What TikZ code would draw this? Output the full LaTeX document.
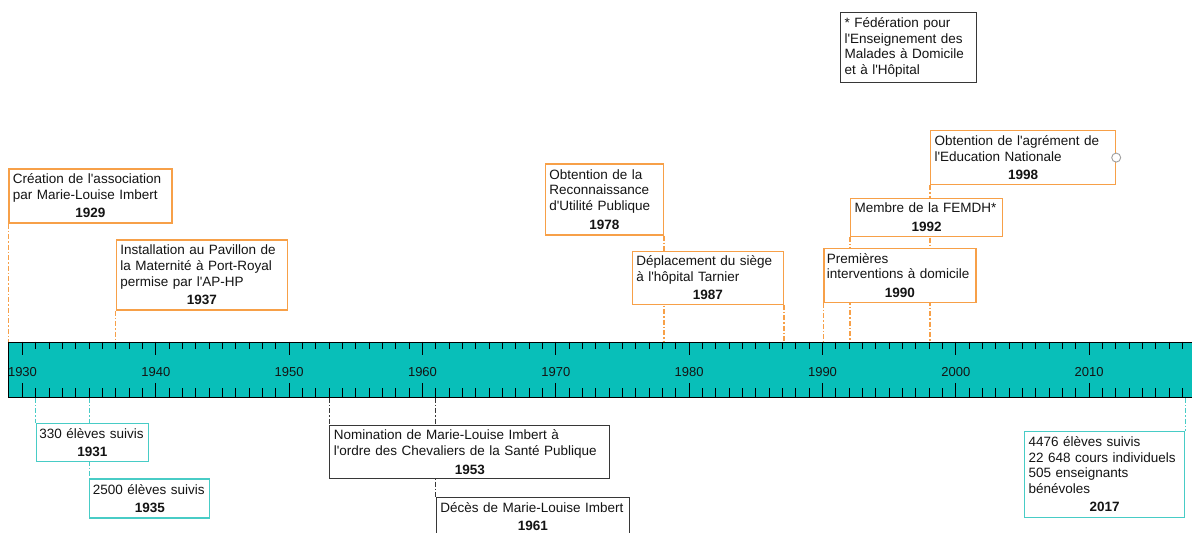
\documentclass[tikz,border=0pt]{standalone}
\usepackage{fontspec}
\setmainfont{Liberation Sans}[Ligatures=TeXOff]
\usetikzlibrary{backgrounds}
\definecolor{orng}{RGB}{247,160,72}
\definecolor{barfill}{RGB}{8,191,185}
\definecolor{tealb}{RGB}{72,204,198}
\definecolor{gryb}{RGB}{55,55,55}
\definecolor{txt}{RGB}{20,20,20}
\newcommand{\yrline}[1]{\par\vspace{3pt}{\centering\bfseries #1\par}}
\begin{document}
\begin{tikzpicture}[x=1pt,y=-1pt,
  evbox/.style={draw, fill=white, line width=1.2pt, inner xsep=4pt, inner ysep=2pt,
    align=left, anchor=north west, text=txt, font=\fontsize{13.5}{15.6}\selectfont},
  obox/.style={evbox, draw=orng},
  tbox/.style={evbox, draw=tealb},
  gbox/.style={evbox, draw=gryb},
  dd/.style={line width=1.2pt, dash pattern=on 5pt off 2pt on 1.5pt off 2pt},
  odash/.style={dd, draw=orng},
  tdash/.style={dd, draw=tealb},
  gdash/.style={dd, draw=gryb},
  yearlab/.style={font=\fontsize{13}{15}\selectfont, text=txt, inner sep=0pt}
]
\useasboundingbox (0,0) rectangle (1192,533);
\clip (0,0) rectangle (1192,533);

% timeline bar
\node[draw=black, fill=barfill, line width=0.8pt, minimum width=1210pt, minimum height=55pt,
      inner sep=0pt, anchor=north west] (bar) at (8.3,341.7) {};
\foreach \yr in {1930,...,2017}{
  \pgfmathsetmacro{\xx}{22.5+(\yr-1930)*13.3333}
  \pgfmathtruncatemacro{\mm}{mod(\yr,10)}
  \ifnum\mm=0
    \draw[line width=0.8pt] (\xx,341.7) -- ++(0,13.5);
    \draw[line width=0.8pt] (\xx,396.7) -- ++(0,-14);
    \node[yearlab] at (\xx,372.5) {\yr};
  \else
    \draw[line width=0.8pt] (\xx,341.7) -- ++(0,7);
    \draw[line width=0.8pt] (\xx,396.7) -- ++(0,-8.5);
  \fi
}

% top events (orange)
\node[obox, text width=155pt, minimum height=54pt] (e1929) at (8.3,168.3)
  {Création de l'association\\par Marie-Louise Imbert\yrline{1929}};
\node[obox, text width=163pt, minimum height=70pt] (e1937) at (115.8,239.3)
  {Installation au Pavillon de\\la Maternité à Port-Royal\\permise par l'AP-HP\yrline{1937}};
\node[obox, text width=110pt, minimum height=71pt] (e1978) at (544.7,163.3)
  {Obtention de la\\Reconnaissance\\d'Utilité Publique\yrline{1978}};
\node[obox, text width=143pt, minimum height=53pt] (e1987) at (631.7,250.7)
  {Déplacement du siège\\à l'hôpital Tarnier\yrline{1987}};
\node[obox, text width=177pt, minimum height=54pt] (e1998) at (930,130)
  {Obtention de l'agrément de\\l'Education Nationale\yrline{1998}};
\node[obox, text width=144pt, minimum height=38pt] (e1992) at (850,197.7)
  {Membre de la FEMDH*\yrline{1992}};
\node[obox, text width=146pt, inner xsep=3pt, minimum height=54pt] (e1990) at (823.3,247.7)
  {Premières\\interventions à domicile\yrline{1990}};
\node[circle, draw=gray!75, fill=white, line width=0.9pt, minimum size=9pt, inner sep=0pt]
  (handle) at (e1998.east) {};

% footnote
\node[gbox, text width=128pt, minimum height=70pt] (note) at (840,11.7)
  {* Fédération pour\\l'Enseignement des\\Malades à Domicile\\et à l'Hôpital};

% bottom events
\node[tbox, text width=108pt, inner xsep=2pt, minimum height=38pt] (e1931) at (35.8,423)
  {\hspace*{1pt}330 élèves suivis\yrline{1931}};
\node[tbox, text width=114pt, inner xsep=3pt, minimum height=39pt] (e1935) at (89.2,478.3)
  {2500 élèves suivis\yrline{1935}};
\node[gbox, text width=272pt, minimum height=53pt] (e1953) at (329.2,425)
  {Nomination de Marie-Louise Imbert à\\l'ordre des Chevaliers de la Santé Publique\yrline{1953}};
\node[gbox, text width=185pt, minimum height=38pt] (e1961) at (435.8,497)
  {Décès de Marie-Louise Imbert\yrline{1961}};
\node[tbox, text width=152pt, minimum height=86pt] (e2017) at (1024,430.7)
  {4476 élèves suivis\\22 648 cours individuels\\505 enseignants\\bénévoles\yrline{2017}};

% connectors
\begin{pgfonlayer}{background}
\draw[odash] (e1929.south west) -- (e1929.south west |- bar.north);
\draw[odash] (e1937.south west) -- (e1937.south west |- bar.north);
\draw[odash] (e1978.south east) -- (e1978.south east |- bar.north);
\draw[odash] (e1987.south east) -- (e1987.south east |- bar.north);
\draw[odash] (e1998.south west) -- (e1998.south west |- bar.north);
\draw[odash] (e1992.south west) -- (e1992.south west |- bar.north);
\draw[odash] (e1990.south west) -- (e1990.south west |- bar.north);
\draw[tdash] (e1931.north west |- bar.south) -- (e1931.north west);
\draw[tdash] (e1935.north west |- bar.south) -- (e1935.north west);
\draw[gdash] (e1953.north west |- bar.south) -- (e1953.north west);
\draw[gdash] (e1961.north west |- bar.south) -- (e1961.north west);
\draw[tdash] (e2017.north east |- bar.south) -- (e2017.north east);
\end{pgfonlayer}
\end{tikzpicture}
\end{document}
